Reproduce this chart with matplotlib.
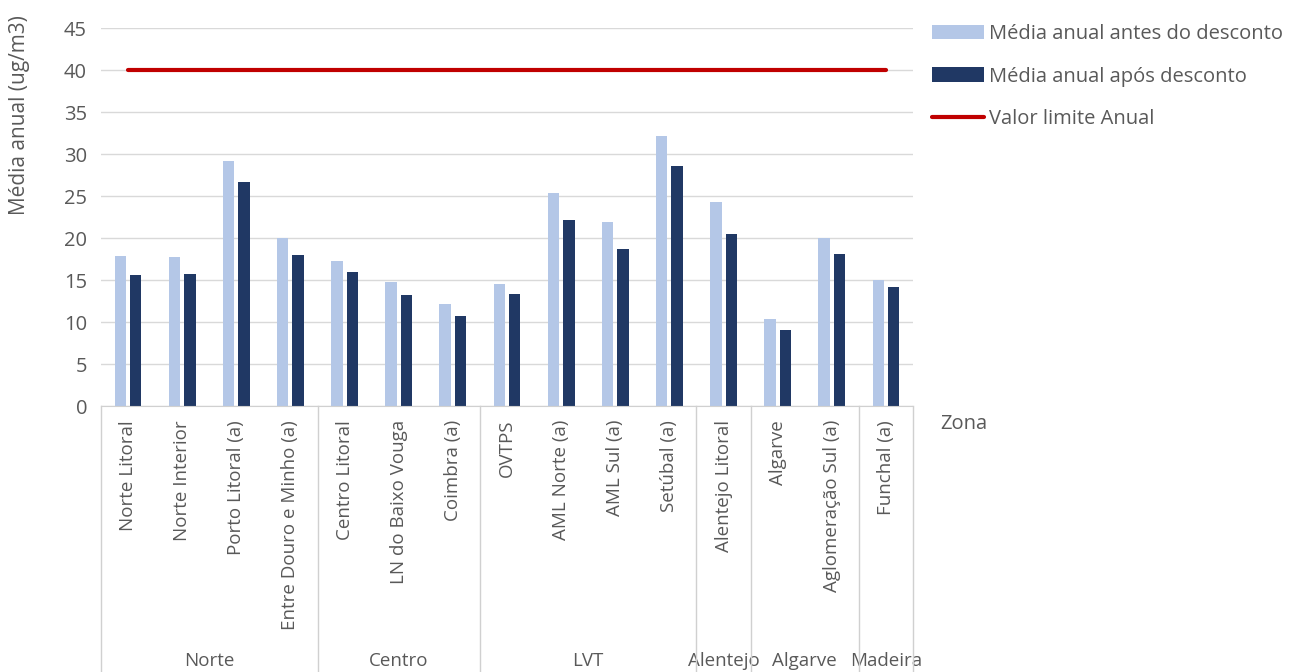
import matplotlib.pyplot as plt
from matplotlib.lines import Line2D
import numpy as np

plt.rcParams['font.family'] = ['Open Sans', 'DejaVu Sans']

zonas = ['Norte Litoral', 'Norte Interior', 'Porto Litoral (a)', 'Entre Douro e Minho (a)',
         'Centro Litoral', 'LN do Baixo Vouga', 'Coimbra (a)',
         'OVTPS', 'AML Norte (a)', 'AML Sul (a)', 'Setúbal (a)',
         'Alentejo Litoral',
         'Algarve', 'Aglomeração Sul (a)',
         'Funchal (a)']
regioes = ['Norte', 'Centro', 'LVT', 'Alentejo', 'Algarve', 'Madeira']
n_zonas = [4, 3, 4, 1, 2, 1]

antes = [17.9, 17.7, 29.2, 20.0, 17.3, 14.8, 12.2, 14.5, 25.4, 21.9, 32.2, 24.3, 10.3, 20.0, 15.0]
depois = [15.6, 15.7, 26.7, 18.0, 15.9, 13.2, 10.7, 13.3, 22.2, 18.7, 28.6, 20.5, 9.1, 18.1, 14.2]
limite = 40

c_antes = '#B4C7E7'
c_depois = '#203864'
c_limite = '#C00000'
cinza = '#595959'

fig = plt.figure(figsize=(12.98, 6.72), dpi=100)
ax = fig.add_axes([101 / 1298, 1 - 406 / 672, 812 / 1298, 378 / 672])

x = np.arange(len(zonas))
w = 0.21
b1 = ax.bar(x - 0.142, antes, w, color=c_antes, label='Média anual antes do desconto', zorder=2)
b2 = ax.bar(x + 0.142, depois, w, color=c_depois, label='Média anual após desconto', zorder=2)
l1, = ax.plot(x, [limite] * len(x), color=c_limite, lw=3, solid_capstyle='round',
              label='Valor limite Anual', zorder=3)

ax.set_xlim(-0.5, len(zonas) - 0.5)
ax.set_ylim(0, 45)
ax.set_yticks(range(0, 50, 5))
ax.yaxis.grid(True, color='#d9d9d9', lw=1, zorder=0)
for s in ['top', 'right', 'left']:
    ax.spines[s].set_visible(False)
ax.spines['bottom'].set_color('#d0d0d0')
ax.tick_params(axis='y', length=0, labelsize=14.5, labelcolor=cinza, pad=10)
ax.set_xticks(x)
ax.set_xticklabels(zonas, rotation=90, fontsize=13.5, color=cinza, va='top')
ax.tick_params(axis='x', length=0, pad=10)

# separadores e nomes das regiões
bx = ax.get_position()
y_top = bx.y0
inicio = 0
fronteiras = [0]
for reg, n in zip(regioes, n_zonas):
    centro = inicio + n / 2 - 0.5
    ax.text(centro, -0.675, reg, transform=ax.get_xaxis_transform(), ha='center', va='center',
            fontsize=13.5, color=cinza, clip_on=False)
    inicio += n
    fronteiras.append(inicio)
for f in fronteiras:
    xf = bx.x0 + bx.width * f / len(zonas)
    fig.add_artist(Line2D([xf, xf], [0, y_top], color='#d0d0d0', lw=1))

fig.text(940 / 1298, 1 - 424 / 672, 'Zona', fontsize=14.5, color=cinza, va='center')
fig.text(20 / 1298, 1 - 115 / 672, 'Média anual (ug/m3)', rotation=90, fontsize=15,
         color=cinza, ha='center', va='center')

fig.legend(handles=[b1, b2, l1], loc='upper left', bbox_to_anchor=(932 / 1298, 1 - 24 / 672),
           frameon=False, fontsize=14.5, labelcolor=cinza, handlelength=2.6, handleheight=0.75,
           handletextpad=0.25, labelspacing=1.12, borderpad=0, borderaxespad=0)

fig.savefig('out.png', dpi=100)
